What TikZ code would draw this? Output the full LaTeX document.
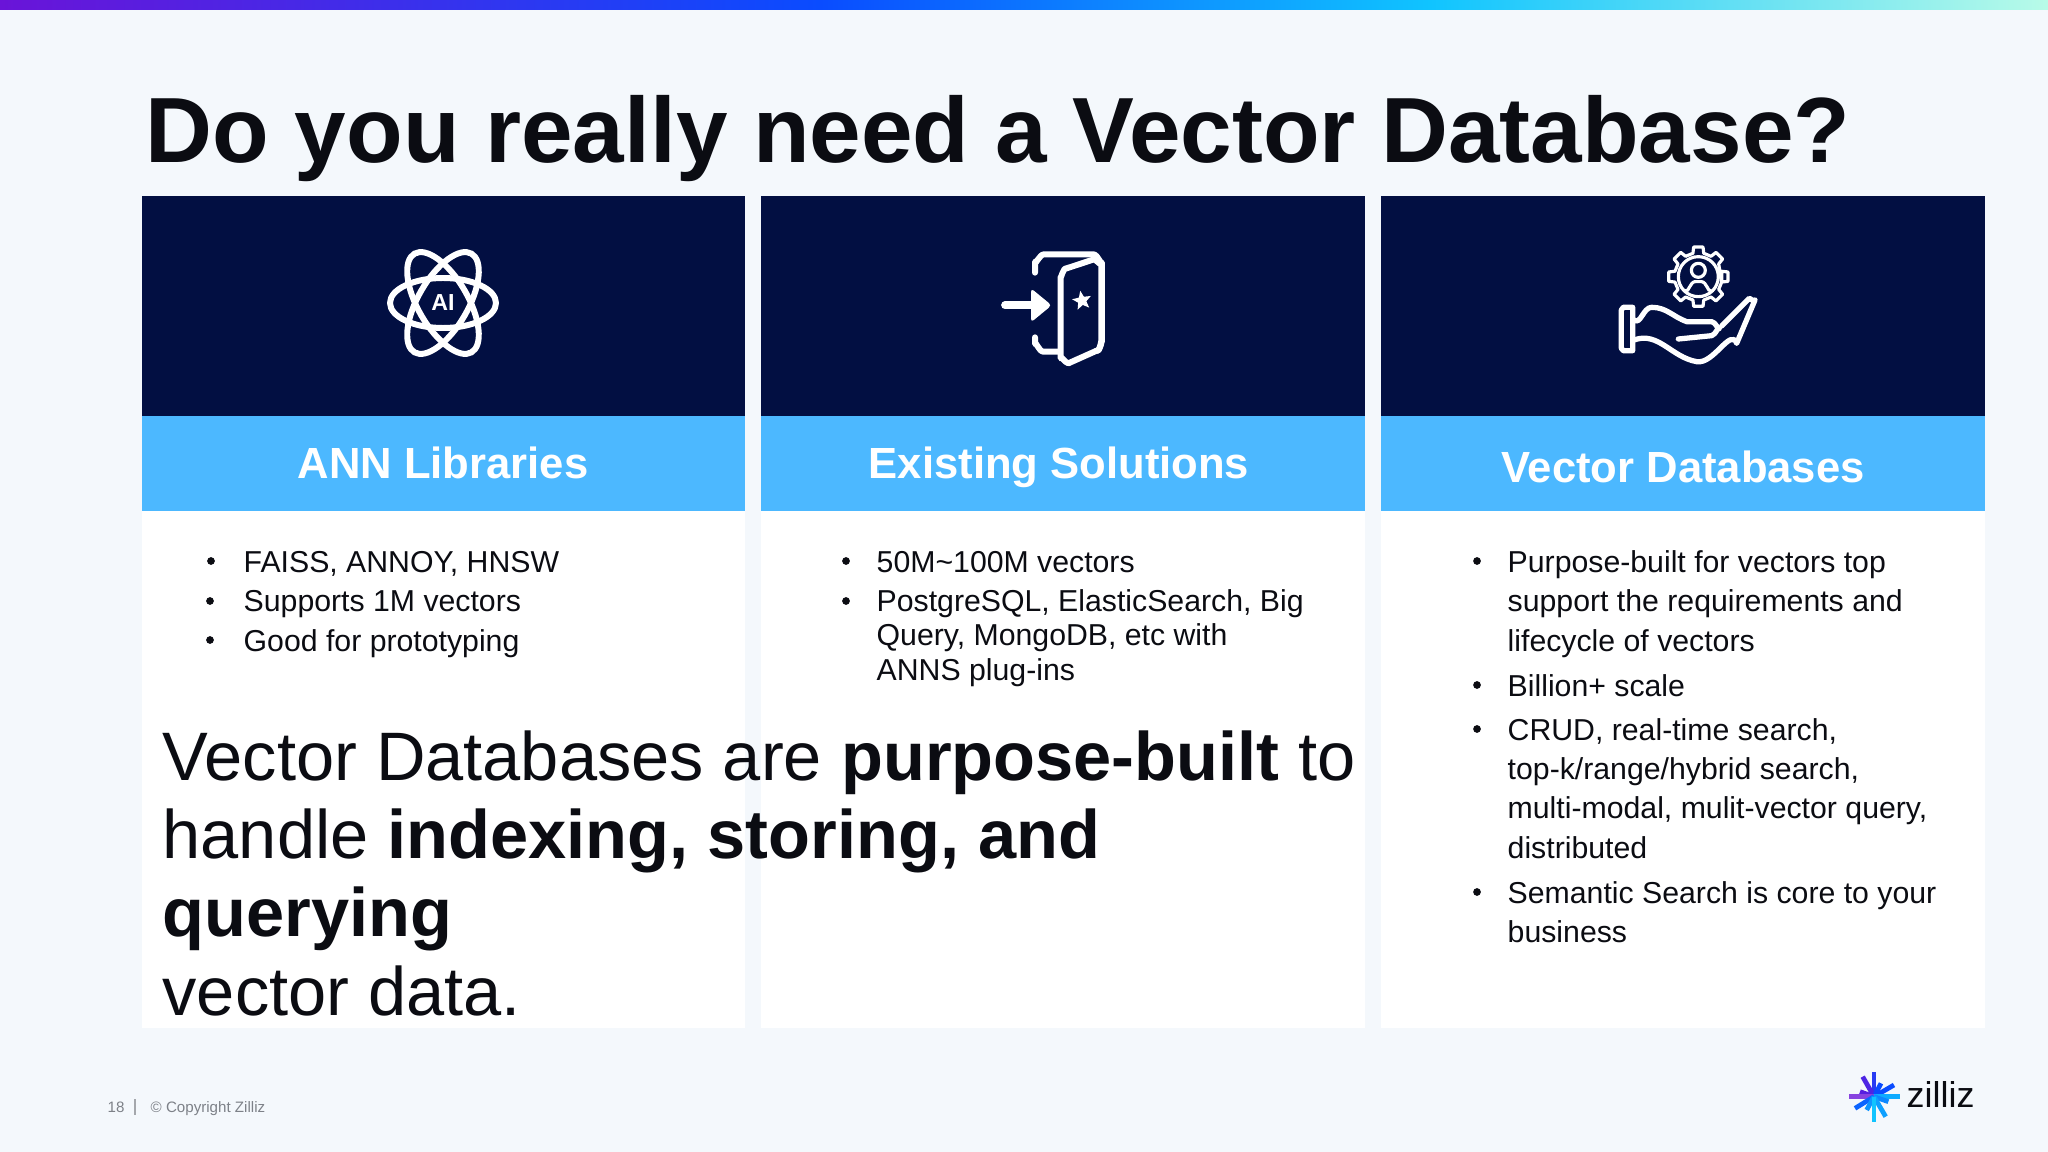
\documentclass[tikz,border=0pt]{standalone}
\usepackage{fontspec}
\setmainfont{Liberation Sans}
\usetikzlibrary{shapes.geometric}
\definecolor{pagebg}{HTML}{F4F8FC}
\definecolor{navyhead}{HTML}{020F42}
\definecolor{skyband}{HTML}{4CB8FF}
\definecolor{inkblack}{HTML}{0B0C12}
\definecolor{footgray}{HTML}{7D8188}
\definecolor{barviolet}{HTML}{6A14D8}
\definecolor{barblue}{HTML}{0A4CFF}
\definecolor{barcyan}{HTML}{10C4FF}
\definecolor{barmint}{HTML}{B8FBE8}
\tikzset{
  cardhead/.style={fill=navyhead},
  cardband/.style={fill=skyband},
  cardbody/.style={fill=white},
  bandtitle/.style={anchor=base,text=white,font=\fontsize{12.4}{12.4}\selectfont\bfseries},
  listline/.style={anchor=base west,inner sep=0pt,text=inkblack,font=\fontsize{8.6}{8.6}\selectfont},
  listdot/.style={circle,fill=inkblack,inner sep=0pt,minimum size=2.2pt},
  bigline/.style={anchor=base west,inner sep=0pt,text=inkblack,font=\fontsize{19.5}{19.5}\selectfont},
  footline/.style={anchor=base west,inner sep=0pt,text=footgray,font=\fontsize{4.3}{4.3}\selectfont},
  iconline/.style={draw=white,line width=1.7pt,line join=round,line cap=round},
  iconthin/.style={draw=white,line width=0.9pt,line join=round,line cap=round},
  logoray/.style={line width=1.35pt}
}
\begin{document}
\begin{tikzpicture}[x=0.01cm,y=-0.01cm]
\fill[pagebg] (0,0) rectangle (2048,1152);
% top bar
\shade[left color=barviolet,right color=barblue] (0,0) rectangle (820,10);
\shade[left color=barblue,right color=barcyan] (820,0) rectangle (1430,10);
\shade[left color=barcyan,right color=barmint] (1430,0) rectangle (2048,10);
% title
\node[anchor=base west,inner sep=0pt,text=inkblack,font=\fontsize{26.35}{26.35}\selectfont\bfseries] (title) at (145,163) {Do you really need a Vector Database?};
% cards
\fill[cardbody] (141.5,196) rectangle (744.5,1028);
\fill[cardbody] (761,196) rectangle (1365,1028);
\fill[cardbody] (1381,196) rectangle (1985,1028);
\fill[cardhead] (141.5,196) rectangle (744.5,416);
\fill[cardhead] (761,196) rectangle (1365,416);
\fill[cardhead] (1381,196) rectangle (1985,416);
\fill[cardband] (141.5,416) rectangle (744.5,511);
\fill[cardband] (761,416) rectangle (1365,511);
\fill[cardband] (1381,416) rectangle (1985,511);
\node[bandtitle] (annband) at (443,479) {ANN Libraries};
\node[bandtitle] (existband) at (1059,479) {Existing Solutions};
\node[bandtitle] (vecband) at (1683,482) {Vector Databases};
% atom icon
\begin{scope}[shift={(443,303)}]
\draw[iconline] (0,0) ellipse [x radius=53,y radius=25];
\draw[iconline,rotate=60] (0,0) ellipse [x radius=57,y radius=25];
\draw[iconline,rotate=-60] (0,0) ellipse [x radius=57,y radius=25];
\node[text=white,inner sep=0pt,font=\fontsize{6.6}{6.6}\selectfont\bfseries] (ailabel) at (0,0) {AI};
\end{scope}
% door icon
\begin{scope}[shift={(970,220)},scale=1/3]
\draw[iconline] (195,158) -- (195,125) to[out=-90,in=180] (222,103) -- (370,103) to[out=0,in=-90] (396,128) -- (396,365) to[out=90,in=-20] (380,392);
\draw[iconline] (195,352) -- (195,372) to[out=90,in=180] (220,395) -- (270,395);
\draw[iconline] (272,170) to[out=-90,in=165] (290,145) -- (372,118) to[out=-20,in=-90] (394,130) -- (394,365) to[out=90,in=-20] (380,392) -- (295,430) to[out=170,in=90] (272,415) -- cycle;
\draw[iconline,line width=2.2pt] (105,256) -- (190,256);
\fill[white,rounded corners=1pt] (183,205) -- (245,256) -- (183,307) -- cycle;
\node[star,star points=5,star point ratio=2.3,fill=white,inner sep=0pt,minimum size=2mm,rotate=10] (doorstar) at (336,242) {};
\end{scope}
% hand icon
\begin{scope}[shift={(1590,220)},scale=1/3]
\draw[iconthin] (325,170) ++(13:72) \foreach \a in {0,45,...,315} {-- ++(0,0) -- ([shift={(325,170)}]\a-13:72) -- ([shift={(325,170)}]\a-9:90) -- ([shift={(325,170)}]\a+9:90) -- ([shift={(325,170)}]\a+13:72)} -- cycle;
\draw[iconthin] (325,170) circle (60);
\draw[iconthin] (325,151) circle (21);
\draw[iconthin] (289,210) to[out=-80,in=180] (315,185) -- (335,185) to[out=0,in=-100] (361,210);
\draw[iconline,line width=1.5pt] (100,262) -- (128,262) -- (128,392) -- (100,392) -- (94,385) -- (94,270) -- cycle;
\draw[iconline,line width=1.5pt] (132,300) to[out=-40,in=180] (185,262) to[out=0,in=160] (290,305) -- (365,305) to[out=0,in=-90] (388,325) to[out=90,in=10] (365,347) -- (265,357);
\draw[iconline,line width=1.5pt] (395,318) -- (478,235) to[out=-30,in=-90] (495,240) -- (440,370) to[out=110,in=-10] (320,425) to[out=170,in=20] (132,360);
\end{scope}
% lists
\node[listdot] (d1a) at (211,561) {};
\node[listdot] (d1b) at (210,601) {};
\node[listdot] (d1c) at (210,640) {};
\node[listline] (l1a) at (243,573) {FAISS, ANNOY, HNSW};
\node[listline] (l1b) at (243,612) {Supports 1M vectors};
\node[listline] (l1c) at (243,651) {Good for prototyping};
\node[listdot] (d2a) at (846,561) {};
\node[listdot] (d2b) at (846,601) {};
\node[listline] (l2a) at (876,573) {50M\textasciitilde100M vectors};
\node[listline] (l2b) at (876,612) {PostgreSQL, ElasticSearch, Big};
\node[listline] (l2c) at (876,646) {Query, MongoDB, etc with};
\node[listline] (l2d) at (876,680) {ANNS plug-ins};
\node[listdot] (d3a) at (1477,561) {};
\node[listdot] (d3b) at (1477,685) {};
\node[listdot] (d3c) at (1477,729) {};
\node[listdot] (d3d) at (1477,892) {};
\node[listline] (l3a) at (1507,573) {Purpose-built for vectors top};
\node[listline] (l3b) at (1507,612) {support the requirements and};
\node[listline] (l3c) at (1507,651) {lifecycle of vectors};
\node[listline] (l3d) at (1507,696) {Billion+ scale};
\node[listline] (l3e) at (1507,740) {CRUD, real-time search,};
\node[listline] (l3f) at (1507,779) {top-k/range/hybrid search,};
\node[listline] (l3g) at (1507,818) {multi-modal, mulit-vector query,};
\node[listline] (l3h) at (1507,858) {distributed};
\node[listline] (l3i) at (1507,903) {Semantic Search is core to your};
\node[listline] (l3j) at (1507,942) {business};
% overlay text
\node[bigline] (big1) at (162,780) {Vector Databases are \textbf{purpose-built} to};
\node[bigline] (big2) at (162,858) {handle \textbf{indexing, storing, and}};
\node[bigline] (big3) at (162,936) {\textbf{querying}};
\node[bigline] (big4) at (162,1015) {vector data.};
% footer
\node[footline] (pagenum) at (107,1112) {18};
\node[footline] (copy) at (150,1112) {\textcopyright{} Copyright Zilliz};
\draw[footgray!70,line width=0.3pt] (135,1099) -- (135,1115);
% logo
\begin{scope}[shift={(1820,1050)},scale=1/3]
\draw[logoray,color=barblue!70!barviolet] (162,140) -- (162,65);
\draw[logoray,color=barviolet!70!barblue] (162,140) -- (128,80);
\draw[logoray,color=barblue] (162,140) -- (183,100);
\draw[logoray,color=barblue] (162,140) -- (222,105);
\draw[logoray,color=barviolet!80!barblue] (162,140) -- (120,125);
\draw[logoray,color=barviolet!80!white] (162,140) -- (88,140);
\draw[logoray,color=barblue!80!barcyan] (162,140) -- (105,175);
\draw[logoray,color=barcyan!80!barblue] (162,140) -- (240,140);
\draw[logoray,color=barcyan!50!barblue] (162,140) -- (205,155);
\draw[logoray,color=barcyan!70!barblue] (162,140) -- (197,200);
\draw[logoray,color=barcyan!60!barblue] (162,140) -- (140,180);
\draw[logoray,color=barcyan] (162,140) -- (162,215);
\end{scope}
\node[anchor=base west,inner sep=0pt,text=inkblack,font=\fontsize{10.2}{10.2}\selectfont] (zillizmark) at (1906,1107) {zilliz};
\end{tikzpicture}
\end{document}
